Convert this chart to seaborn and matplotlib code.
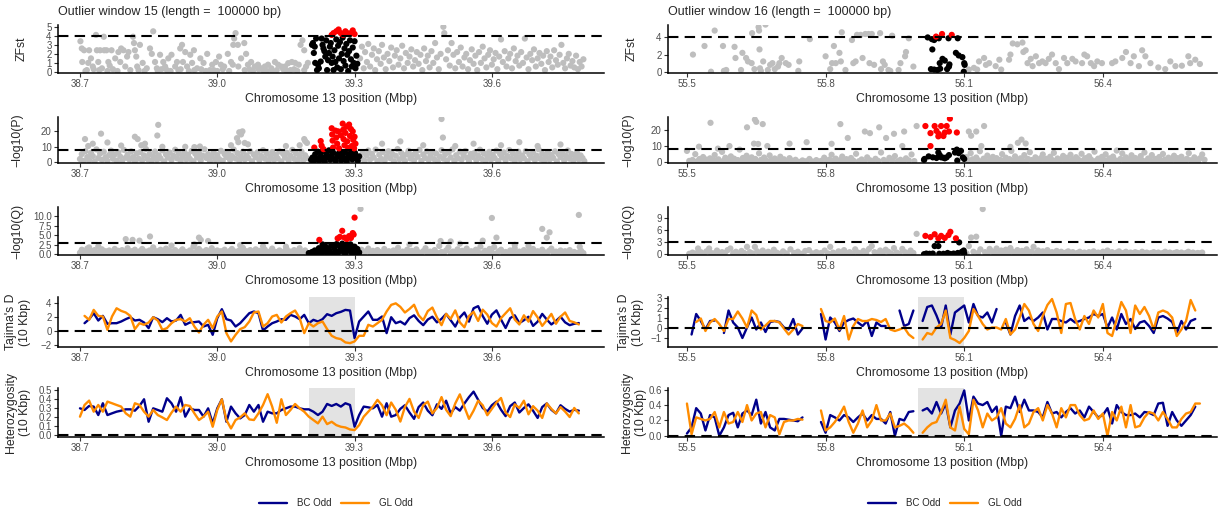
import numpy as np
import pandas as pd
import matplotlib
matplotlib.use("Agg")
import matplotlib.pyplot as plt
import seaborn as sns
from matplotlib.lines import Line2D

# ---------------- data ----------------
# scatter panels: "position(Mbp) value" pairs
ZFST_15 = """
38.701 3.4, 38.704 2.6, 38.705 1.1, 38.709 2.4, 38.715 0.2, 38.718 1.0, 38.72 2.4, 38.724 1.5, 38.728 0.6, 38.735 4.1,
38.737 2.4, 38.74 1.1, 38.744 2.4, 38.748 0.4, 38.752 3.9, 38.753 2.4, 38.758 2.4, 38.762 1.1, 38.765 0.7, 38.769 2.4,
38.777 1.5, 38.784 2.2, 38.788 1.1, 38.79 2.6, 38.795 2.4, 38.799 0.6, 38.803 1.7, 38.806 2.2, 38.816 3.9, 38.818 3.2,
38.82 2.4, 38.823 1.7, 38.825 0.6, 38.831 3.0, 38.837 1.0, 38.846 0.4, 38.853 2.6, 38.857 2.0, 38.86 4.5, 38.864 1.1,
38.868 0.4, 38.875 1.9, 38.882 1.1, 38.886 0.6, 38.89 0.2, 38.893 1.5, 38.9 1.9, 38.908 0.6, 38.912 1.1, 38.919 2.6,
38.923 3.0, 38.925 1.1, 38.93 2.2, 38.934 0.6, 38.941 1.9, 38.945 1.0, 38.949 2.4, 38.956 0.4, 38.963 1.5, 38.97 1.0,
38.978 2.0, 38.984 0.2, 38.989 0.8, 38.997 1.1, 39.004 1.7, 39.008 0.8, 39.015 0.6, 39.023 2.0, 39.03 1.1, 39.034 0.8,
39.035 3.0, 39.037 3.7, 39.04 4.3, 39.045 3.0, 39.046 0.6, 39.052 1.5, 39.059 3.2, 39.063 2.0, 39.067 0.8, 39.074 1.1,
39.082 0.6, 39.089 0.8, 39.096 0.4, 39.104 0.6, 39.111 0.8, 39.118 0.4, 39.126 1.1, 39.133 0.8, 39.14 0.6, 39.148 0.6,
39.155 0.97, 39.163 1.1, 39.17 1.0, 39.178 0.8, 39.182 3.0, 39.186 3.5, 39.19 2.4, 39.194 0.6, 39.198 1.0,
38.76 0.1, 38.81 0.2, 38.87 0.1, 38.95 0.2, 39.0 0.1, 39.06 0.2, 39.12 0.1, 39.16 0.2, 38.73 0.3, 38.92 0.3, 39.09 0.3,
38.712 0.1, 38.742 0.2, 38.772 0.3, 38.782 0.1, 38.828 0.2, 38.841 0.1, 38.878 0.3, 38.898 0.1, 38.915 0.2, 38.938 0.1,
38.965 0.3, 38.975 0.1, 38.992 0.2, 39.012 0.3, 39.026 0.1, 39.07 0.3, 39.078 0.1, 39.1 0.2, 39.108 0.1, 39.13 0.2,
39.144 0.3, 39.152 0.1, 39.168 0.3, 39.175 0.1, 39.19 0.2,
39.207 3.0, 39.209 3.2, 39.213 2.8, 39.211 2.1, 39.214 1.0, 39.216 3.7, 39.218 0.2, 39.22 0.8, 39.222 0.4, 39.226 1.15,
39.228 3.7, 39.23 3.0, 39.232 2.6, 39.234 2.3, 39.236 1.7, 39.238 3.5, 39.24 0.2, 39.242 1.3, 39.244 2.1, 39.246 2.8,
39.248 3.2, 39.25 1.0, 39.252 1.7, 39.254 0.2, 39.256 2.4, 39.258 1.1, 39.26 3.6, 39.262 0.5, 39.264 2.9, 39.266 1.5,
39.268 3.3, 39.27 0.3, 39.272 2.0, 39.274 3.8, 39.276 1.2, 39.278 2.6, 39.28 0.7, 39.282 3.1, 39.284 1.9, 39.286 0.1,
39.288 2.3, 39.29 3.5, 39.292 1.4, 39.294 0.6, 39.296 2.7, 39.298 1.0, 39.3 3.4, 39.302 0.4, 39.304 1.8, 39.306 0.9,
39.25 4.1, 39.254 4.3, 39.26 4.5, 39.265 4.7, 39.27 4.3, 39.275 4.1, 39.28 4.5, 39.284 4.3, 39.288 4.2, 39.292 4.3,
39.296 4.6, 39.3 4.2,
39.312 1.5, 39.316 2.8, 39.32 0.4, 39.323 2.2, 39.327 1.1, 39.33 3.1, 39.334 0.6, 39.338 1.9, 39.342 2.6, 39.345 0.2,
39.349 1.4, 39.353 2.3, 39.357 0.9, 39.36 3.0, 39.364 1.6, 39.368 0.3, 39.372 2.0, 39.376 1.2, 39.38 2.7, 39.384 0.5,
39.388 1.8, 39.392 2.4, 39.396 0.8, 39.4 1.5, 39.404 2.9, 39.408 0.4, 39.412 2.1, 39.416 1.0, 39.42 1.7, 39.424 2.5,
39.428 0.6, 39.432 1.3, 39.436 2.2, 39.44 0.9, 39.444 1.9, 39.448 0.2, 39.452 2.6, 39.456 1.2, 39.46 1.8, 39.464 0.5,
39.468 2.3, 39.472 1.0, 39.476 3.2, 39.48 1.6, 39.484 0.3, 39.488 2.0, 39.494 5.0, 39.496 4.3, 39.5 1.4, 39.504 2.4,
39.508 0.7, 39.512 3.2, 39.516 1.9, 39.52 0.4, 39.524 2.2, 39.528 1.1, 39.532 2.7, 39.536 0.6, 39.54 1.6, 39.544 2.0,
39.548 0.3, 39.552 1.3, 39.556 2.5, 39.56 0.9, 39.564 1.8, 39.568 0.2, 39.572 2.2, 39.576 1.0, 39.58 2.8, 39.584 1.5,
39.588 0.5, 39.592 1.9, 39.596 2.4, 39.6 0.8, 39.604 1.4, 39.608 2.1, 39.612 0.3, 39.616 1.7, 39.62 3.6, 39.624 1.1,
39.628 2.3, 39.632 0.6, 39.636 1.5, 39.64 2.0, 39.644 0.4, 39.648 2.6, 39.652 1.2, 39.656 1.8, 39.66 0.7, 39.664 2.2,
39.668 1.0, 39.672 3.7, 39.676 1.6, 39.68 0.3, 39.684 2.0, 39.688 1.3, 39.692 2.5, 39.696 0.6, 39.7 1.5, 39.704 2.1,
39.708 0.9, 39.712 1.8, 39.716 0.2, 39.72 2.3, 39.724 1.1, 39.728 1.7, 39.732 0.5, 39.736 2.4, 39.74 1.3, 39.744 0.8,
39.748 1.9, 39.752 3.0, 39.756 1.0, 39.76 0.4, 39.764 1.5, 39.768 2.0, 39.772 0.7, 39.776 1.2, 39.78 0.5, 39.784 1.8,
39.788 0.3, 39.792 1.1, 39.796 0.6, 39.8 1.4
"""

LOGP_15 = """
38.700 2.1, 38.704 5.3, 38.708 0.8, 38.712 7.2, 38.716 3.4, 38.720 1.2, 38.724 6.1, 38.728 4.0, 38.732 0.5, 38.736 8.3,
38.740 2.7, 38.744 5.6, 38.748 1.5, 38.752 6.8, 38.756 3.2, 38.760 0.9, 38.764 4.7, 38.768 7.5, 38.772 2.3, 38.776 5.1,
38.780 1.0, 38.784 6.4, 38.788 3.6, 38.792 0.6, 38.796 8.0, 38.800 2.9, 38.804 4.9, 38.808 1.8, 38.812 7.0, 38.816 3.3,
38.820 0.7, 38.824 5.8, 38.828 2.4, 38.832 6.6, 38.836 1.3, 38.840 4.4, 38.844 8.6, 38.848 2.0, 38.852 5.4, 38.856 0.9,
38.860 3.8, 38.864 6.9, 38.868 1.6, 38.872 4.5, 38.876 2.5, 38.880 7.7, 38.884 0.5, 38.888 5.0, 38.892 3.0, 38.896 6.3,
38.900 1.4, 38.904 4.2, 38.908 8.1, 38.912 2.6, 38.916 5.7, 38.920 0.8, 38.924 3.9, 38.928 6.7, 38.932 1.9, 38.936 4.8,
38.940 2.2, 38.944 7.3, 38.948 0.6, 38.952 5.5, 38.956 3.1, 38.960 6.0, 38.964 1.2, 38.968 4.3, 38.972 8.4, 38.976 2.8,
38.980 5.2, 38.984 0.7, 38.988 3.7, 38.992 6.5, 38.996 1.7, 39.000 4.6, 39.004 2.1, 39.008 7.4, 39.012 0.9, 39.016 5.3,
39.020 3.4, 39.024 6.2, 39.028 1.5, 39.032 4.1, 39.036 8.2, 39.040 2.4, 39.044 5.9, 39.048 1.0, 39.052 3.6, 39.056 6.8,
39.060 1.8, 39.064 4.4, 39.068 2.7, 39.072 7.1, 39.076 0.6, 39.080 5.0, 39.084 3.2, 39.088 6.4, 39.092 1.3, 39.096 4.0,
39.100 7.8, 39.104 2.3, 39.108 5.6, 39.112 0.8, 39.116 3.5, 39.120 6.6, 39.124 1.6, 39.128 4.7, 39.132 2.5, 39.136 7.0,
39.140 0.5, 39.144 5.4, 39.148 3.0, 39.152 6.1, 39.156 1.1, 39.160 4.2, 39.164 8.0, 39.168 2.2, 39.172 5.7, 39.176 0.9,
39.180 3.8, 39.184 6.9, 39.188 1.4, 39.192 4.5, 39.196 2.6,
38.711 15.0, 38.718 10.5, 38.728 12.0, 38.746 18.5, 38.760 12.8, 38.790 10.8, 38.820 16.5, 38.826 15.0, 38.834 11.0,
38.842 12.0, 38.869 17.3, 38.871 24.2, 38.880 10.0, 38.930 10.0, 38.950 9.8, 38.962 10.2, 39.030 11.0, 39.043 15.6,
39.046 13.0, 39.048 19.4, 39.052 18.0, 39.055 20.0, 39.060 12.5, 39.067 11.6, 39.150 10.5, 39.180 11.0, 39.190 15.0,
39.192 13.7, 39.196 12.5,
39.205 1.5, 39.208 3.0, 39.211 0.5, 39.214 5.2, 39.217 2.2, 39.220 6.8, 39.223 1.0, 39.226 4.0, 39.229 7.2, 39.232 2.7,
39.235 0.4, 39.238 5.6, 39.241 3.3, 39.244 7.7, 39.247 1.6, 39.250 4.6, 39.253 6.3, 39.256 2.0, 39.259 0.8, 39.262 5.0,
39.265 3.6, 39.268 7.0, 39.271 1.2, 39.274 4.3, 39.277 6.5, 39.280 2.4, 39.283 0.6, 39.286 5.4, 39.289 3.1, 39.292 7.4,
39.295 1.8, 39.298 4.8, 39.301 6.0, 39.304 2.9, 39.307 0.9, 39.310 3.8,
39.212 9.5, 39.226 13.7, 39.228 10.7, 39.232 8.5, 39.250 22.0, 39.251 18.0, 39.252 14.0, 39.253 9.5, 39.258 20.5,
39.260 16.0, 39.262 12.0, 39.264 20.0, 39.266 9.0, 39.270 17.5, 39.274 25.0, 39.275 21.0, 39.276 15.0, 39.278 11.0,
39.280 19.0, 39.282 23.0, 39.284 13.5, 39.286 9.2, 39.288 24.4, 39.290 17.0, 39.292 21.5, 39.294 10.5, 39.296 20.0,
39.297 14.5, 39.299 9.0, 39.300 16.5, 39.302 12.0,
39.314 2.5, 39.318 6.2, 39.322 0.9, 39.326 4.4, 39.330 7.6, 39.334 1.8, 39.338 5.3, 39.342 3.0, 39.346 8.2, 39.350 0.7,
39.354 4.9, 39.358 2.2, 39.362 6.7, 39.366 1.3, 39.370 3.9, 39.374 7.1, 39.378 2.6, 39.382 5.5, 39.386 0.6, 39.390 4.2,
39.394 8.5, 39.398 1.9, 39.402 6.0, 39.406 3.3, 39.410 0.9, 39.414 5.1, 39.418 7.4, 39.422 2.4, 39.426 4.6, 39.430 1.2,
39.434 6.5, 39.438 3.5, 39.442 8.0, 39.446 0.8, 39.450 5.0, 39.454 2.8, 39.458 7.0, 39.462 1.5, 39.466 4.1, 39.470 6.3,
39.474 2.0, 39.478 5.7, 39.482 0.5, 39.486 3.7, 39.490 7.8, 39.494 2.3, 39.498 5.2, 39.502 1.1, 39.506 6.6, 39.510 3.1,
39.514 8.3, 39.518 0.9, 39.522 4.5, 39.526 2.5, 39.530 6.9, 39.534 1.7, 39.538 4.8, 39.542 7.3, 39.546 2.9, 39.550 0.6,
39.554 5.4, 39.558 3.4, 39.562 6.1, 39.566 1.3, 39.570 4.3, 39.574 8.1, 39.578 2.1, 39.582 5.8, 39.586 0.8, 39.590 3.8,
39.594 6.7, 39.598 1.6, 39.602 4.7, 39.606 2.7, 39.610 7.5, 39.614 0.7, 39.618 5.3, 39.622 3.2, 39.626 6.4, 39.630 1.2,
39.634 4.0, 39.638 7.9, 39.642 2.4, 39.646 5.6, 39.650 0.9, 39.654 3.6, 39.658 6.8, 39.662 1.9, 39.666 4.4, 39.670 2.6,
39.674 7.2, 39.678 0.6, 39.682 5.1, 39.686 3.0, 39.690 6.2, 39.694 1.4, 39.698 4.2, 39.702 8.4, 39.706 2.2, 39.710 5.5,
39.714 0.8, 39.718 3.7, 39.722 6.6, 39.726 1.7, 39.730 4.6, 39.734 2.8, 39.738 7.0, 39.742 0.5, 39.746 5.2, 39.750 3.3,
39.754 6.0, 39.758 1.1, 39.762 4.1, 39.766 7.6, 39.770 2.3, 39.774 5.4, 39.778 1.0, 39.782 3.6, 39.786 6.1, 39.790 1.9,
39.794 4.4, 39.798 2.7, 39.802 0.8,
39.360 12.0, 39.400 13.5, 39.450 11.0, 39.490 28.0, 39.493 16.0, 39.520 10.5, 39.560 12.0, 39.620 11.0, 39.660 13.0,
39.700 10.5, 39.750 11.5
"""

LOGQ_15 = """
38.700 0.4, 38.704 1.2, 38.708 0.1, 38.712 0.8, 38.716 1.5, 38.72 0.3, 38.724 0.9, 38.728 0.2, 38.732 1.1, 38.736 0.5,
38.74 0.1, 38.744 0.7, 38.748 1.3, 38.752 0.3, 38.756 0.8, 38.76 0.1, 38.764 1.0, 38.768 0.4, 38.772 0.6, 38.776 1.4,
38.78 0.2, 38.784 0.9, 38.788 0.4, 38.792 1.1, 38.796 0.1, 38.8 0.7, 38.804 1.6, 38.808 0.3, 38.812 0.8, 38.816 0.2,
38.82 1.2, 38.824 0.5, 38.828 0.1, 38.832 0.9, 38.836 1.4, 38.84 0.3, 38.844 0.7, 38.848 0.2, 38.852 1.0, 38.856 0.5,
38.86 1.8, 38.864 0.1, 38.868 0.8, 38.872 0.4, 38.876 1.2, 38.88 0.2, 38.884 0.6, 38.888 1.5, 38.892 0.3, 38.896 0.9,
38.9 0.1, 38.904 0.7, 38.908 1.1, 38.912 0.4, 38.916 0.2, 38.92 0.8, 38.924 1.3, 38.928 0.3, 38.932 0.6, 38.936 0.1,
38.94 1.0, 38.944 0.5, 38.948 2.0, 38.952 0.2, 38.956 0.9, 38.96 1.4, 38.964 0.3, 38.968 0.7, 38.972 0.1, 38.976 1.1,
38.98 0.4, 38.984 0.8, 38.988 1.6, 38.992 0.2, 38.996 0.6, 39.0 1.0, 39.004 0.3, 39.008 0.8, 39.012 0.1, 39.016 1.2,
39.02 0.5, 39.024 0.2, 39.028 0.9, 39.032 1.4, 39.036 0.3, 39.04 0.7, 39.044 0.1, 39.048 1.0, 39.052 0.4, 39.056 1.7,
39.06 0.2, 39.064 0.8, 39.068 0.5, 39.072 1.1, 39.076 0.1, 39.08 0.6, 39.084 1.3, 39.088 0.3, 39.092 0.9, 39.096 0.2,
39.1 0.7, 39.104 1.2, 39.108 0.4, 39.112 0.1, 39.116 0.8, 39.12 1.5, 39.124 0.3, 39.128 0.6, 39.132 0.2, 39.136 1.0,
39.14 0.5, 39.144 0.1, 39.148 0.9, 39.152 1.3, 39.156 0.3, 39.16 0.7, 39.164 0.2, 39.168 1.1, 39.172 0.4, 39.176 0.8,
39.18 1.6, 39.184 0.2, 39.188 0.6, 39.192 1.0, 39.196 0.3,
39.31 0.5, 39.315 1.2, 39.32 0.2, 39.325 0.8, 39.33 1.5, 39.335 0.3, 39.34 0.9, 39.345 0.1, 39.35 1.1, 39.355 0.6,
39.36 0.2, 39.365 1.4, 39.37 0.4, 39.375 0.8, 39.38 0.1, 39.385 1.0, 39.39 0.5, 39.395 1.7, 39.4 0.3, 39.405 0.7,
39.41 0.2, 39.415 1.2, 39.42 0.4, 39.425 0.9, 39.43 0.1, 39.435 1.3, 39.44 0.5, 39.445 0.2, 39.45 0.8, 39.455 1.6,
39.46 0.3, 39.465 0.7, 39.47 0.1, 39.475 1.1, 39.48 0.4, 39.485 2.2, 39.49 0.6, 39.495 0.2, 39.5 1.0, 39.505 1.8,
39.51 0.3, 39.515 0.7, 39.52 0.1, 39.525 1.3, 39.53 0.5, 39.535 0.9, 39.54 0.2, 39.545 1.5, 39.55 0.4, 39.555 0.8,
39.56 0.1, 39.565 1.2, 39.57 0.6, 39.575 2.0, 39.58 0.3, 39.585 0.9, 39.59 0.2, 39.595 1.4, 39.6 0.5, 39.605 1.9,
39.61 0.2, 39.615 0.8, 39.62 1.2, 39.625 0.3, 39.63 0.6, 39.635 0.1, 39.64 1.0, 39.645 0.4, 39.65 1.6, 39.655 0.2,
39.66 0.7, 39.665 0.1, 39.67 1.1, 39.675 0.5, 39.68 0.9, 39.685 0.2, 39.69 1.4, 39.695 0.3, 39.7 0.8, 39.705 0.1,
39.71 1.2, 39.715 0.5, 39.72 0.2, 39.725 0.9, 39.73 1.5, 39.735 0.3, 39.74 0.7, 39.745 0.1, 39.75 1.0, 39.755 0.4,
39.76 0.8, 39.765 0.2, 39.77 1.1, 39.775 0.3, 39.78 0.6, 39.785 0.2, 39.79 0.5, 39.795 0.9, 39.8 0.3,
38.80 4.0, 38.815 3.8, 38.83 3.6, 38.853 4.7, 38.96 4.4, 38.964 3.8, 38.98 3.5, 39.313 12.0, 39.488 3.5, 39.51 3.4,
39.58 3.6, 39.60 9.6, 39.61 4.4, 39.71 6.7, 39.726 5.8, 39.72 4.4, 39.79 10.4, 39.792 2.0, 38.72 1.8, 38.74 2.1,
38.9 2.3, 38.95 2.6, 39.05 2.4, 39.1 2.1, 39.15 2.0, 39.42 2.6, 39.53 2.8, 39.65 2.5, 39.68 2.2,
39.2 0.3, 39.204 0.1, 39.207 0.6, 39.21 0.2, 39.213 1.0, 39.216 0.4, 39.219 0.1, 39.222 1.6, 39.225 0.5, 39.228 0.2,
39.231 1.2, 39.234 0.7, 39.237 2.0, 39.24 0.3, 39.243 1.4, 39.246 0.8, 39.249 2.4, 39.252 0.1, 39.255 1.8, 39.258 1.0,
39.261 2.7, 39.264 0.4, 39.267 2.2, 39.27 1.3, 39.273 2.8, 39.276 0.6, 39.279 1.9, 39.282 2.5, 39.285 0.9, 39.288 1.6,
39.291 2.6, 39.294 0.3, 39.297 1.1, 39.3 2.0, 39.303 0.5, 39.306 1.4, 39.309 0.2, 39.23 2.6, 39.245 0.1, 39.26 0.2,
39.28 0.1,
39.223 3.8, 39.263 4.2, 39.268 4.6, 39.273 6.2, 39.278 4.4, 39.283 4.0, 39.288 4.8, 39.292 4.3, 39.296 5.6,
39.298 5.2, 39.3 9.7
"""

ZFST_16 = """
55.513 2.0, 55.538 3.0, 55.552 0.0, 55.56 4.8, 55.578 3.0, 55.58 0.1, 55.585 0.2, 55.603 2.9, 55.605 1.6, 55.617 0.2,
55.62 2.2, 55.628 1.6, 55.632 1.2, 55.64 1.0, 55.641 4.5, 55.646 0.3, 55.655 5.2, 55.656 4.8, 55.657 2.6, 55.658 0.4,
55.66 0.1, 55.665 1.2, 55.67 5.5, 55.675 0.2, 55.68 0.8, 55.685 1.0, 55.69 0.3, 55.697 0.6, 55.70 1.0, 55.705 1.6,
55.714 1.0, 55.72 0.8, 55.743 1.2, 55.741 0.1, 55.766 3.8, 55.80 1.8, 55.81 0.3, 55.814 1.0, 55.818 3.0, 55.822 1.0,
55.83 2.2, 55.833 1.2, 55.835 4.6, 55.843 0.2, 55.86 1.0, 55.865 1.2, 55.88 1.6, 55.886 4.4, 55.893 4.4, 55.90 4.4,
55.905 0.8, 55.918 4.5, 55.924 1.2, 55.928 0.8, 55.936 0.2, 55.944 4.2, 55.958 0.2, 55.972 1.8, 55.974 2.3, 55.98 3.9,
55.99 0.6, 55.857 3.7, 55.868 4.3, 55.876 4.3, 55.895 1.0, 55.92 0.3, 55.94 0.1, 55.962 1.0,
56.11 0.25, 56.121 0.45, 56.128 0.25, 56.132 1.2, 56.143 1.6, 56.147 0.8, 56.154 1.0, 56.168 0.65, 56.176 1.4, 56.18 0.25,
56.197 1.4, 56.2 2.0, 56.205 3.3, 56.215 3.2, 56.226 3.4, 56.228 2.3, 56.233 2.5, 56.237 1.0, 56.244 1.5, 56.248 0.65,
56.255 1.8, 56.262 1.0, 56.269 1.2, 56.276 1.0, 56.283 1.5, 56.29 2.0, 56.298 1.0, 56.305 0.3, 56.316 1.6, 56.323 1.0,
56.334 1.5, 56.341 1.2, 56.355 1.0, 56.36 2.0, 56.366 1.8, 56.374 1.0, 56.381 0.65, 56.388 1.2, 56.398 1.0, 56.42 1.0,
56.427 1.2, 56.442 1.6, 56.45 2.3, 56.46 1.0, 56.467 1.8, 56.478 0.65, 56.485 2.5, 56.492 1.8, 56.503 1.0, 56.52 0.5,
56.535 0.3, 56.546 1.2, 56.557 0.65, 56.571 0.7, 56.585 1.8, 56.589 1.0, 56.60 1.4, 56.61 0.9,
56.021 4.0, 56.03 3.8, 56.035 3.7, 56.039 4.1, 56.066 3.9, 56.086 3.9, 56.031 2.6, 56.053 1.5, 56.047 1.0, 56.068 0.85,
56.082 2.2, 56.088 1.9, 56.096 1.7, 56.1 1.0, 56.101 0.8, 56.028 0.3, 56.035 0.25, 56.042 0.2, 56.048 0.35, 56.063 0.3,
56.067 0.6, 56.099 0.0, 56.058 1.3, 56.045 3.9,
56.052 4.4, 56.073 4.3
"""

LOGP_16 = """
55.505 0.8, 55.512 1.4, 55.518 5.0, 55.522 0.5, 55.527 2.0, 55.531 1.0, 55.535 3.2, 55.538 0.3, 55.542 1.6, 55.546 0.9,
55.55 2.4, 55.553 0.4, 55.557 1.2, 55.56 4.5, 55.564 0.7, 55.568 1.8, 55.572 0.2, 55.576 6.4, 55.58 1.1, 55.583 2.8,
55.587 0.5, 55.591 1.5, 55.595 3.6, 55.598 0.8, 55.602 2.2, 55.606 0.3, 55.61 1.3, 55.614 7.8, 55.617 0.6, 55.621 2.6,
55.625 1.0, 55.629 4.0, 55.633 0.4, 55.636 1.7, 55.64 3.0, 55.644 0.9, 55.648 2.0, 55.652 0.2, 55.656 5.5, 55.66 1.4,
55.663 0.6, 55.667 2.9, 55.671 1.1, 55.675 0.3, 55.679 4.2, 55.683 1.6, 55.687 0.8, 55.69 2.3, 55.694 0.4, 55.698 1.2,
55.702 3.4, 55.706 0.7, 55.71 1.8, 55.716 0.3, 55.722 2.5, 55.728 0.9, 55.735 1.5, 55.742 0.2, 55.75 1.1, 55.758 0.6,
55.765 2.0, 55.772 0.4, 55.78 1.3, 55.79 0.8, 55.797 2.8, 55.803 0.3, 55.808 1.6, 55.813 4.6, 55.818 0.9, 55.822 2.2,
55.827 0.5, 55.832 1.3, 55.836 3.5, 55.84 0.7, 55.845 1.9, 55.85 0.3, 55.855 2.6, 55.86 1.0, 55.866 5.2, 55.872 0.6,
55.878 1.7, 55.884 0.2, 55.89 3.0, 55.896 1.2, 55.902 0.5, 55.908 2.1, 55.914 0.8, 55.92 6.0, 55.926 1.4, 55.932 0.4,
55.938 2.7, 55.944 1.0, 55.95 3.8, 55.956 0.6, 55.962 1.5, 55.968 0.3, 55.974 2.4, 55.98 1.1, 55.986 4.8, 55.992 0.7,
56.105 3.2, 56.11 0.9, 56.114 5.6, 56.118 1.8, 56.122 0.5, 56.126 2.9, 56.13 1.2, 56.134 6.8, 56.138 0.4, 56.142 2.2,
56.146 1.0, 56.15 4.1, 56.154 0.6, 56.158 1.7, 56.162 3.3, 56.166 0.8, 56.17 2.5, 56.174 0.3, 56.178 1.4, 56.182 5.0,
56.186 1.1, 56.19 2.8, 56.194 0.5, 56.198 1.9, 56.202 7.0, 56.206 0.9, 56.21 3.6, 56.214 1.5, 56.218 0.4, 56.222 2.4,
56.226 1.0, 56.23 4.4, 56.234 0.7, 56.238 2.0, 56.242 6.2, 56.246 1.3, 56.25 0.5, 56.254 3.0, 56.258 1.7, 56.262 0.3,
56.266 2.6, 56.27 4.8, 56.274 1.0, 56.278 2.1, 56.282 0.6, 56.286 3.4, 56.29 1.4, 56.294 5.8, 56.298 0.8, 56.302 2.3,
56.306 0.4, 56.31 1.6, 56.314 3.9, 56.318 1.1, 56.322 2.7, 56.326 0.5, 56.33 4.6, 56.334 1.5, 56.338 0.9, 56.342 3.1,
56.346 2.0, 56.35 0.3, 56.354 5.2, 56.358 1.2, 56.362 2.5, 56.366 0.7, 56.37 3.7, 56.374 1.8, 56.378 0.4, 56.382 6.5,
56.386 1.0, 56.39 2.2, 56.394 0.6, 56.398 3.3, 56.402 1.5, 56.406 4.9, 56.41 0.8, 56.414 2.4, 56.418 0.3, 56.422 3.5,
56.426 1.3, 56.43 7.2, 56.434 0.9, 56.438 2.0, 56.442 5.4, 56.446 1.1, 56.45 3.0, 56.454 0.5, 56.458 1.7, 56.462 4.3,
56.466 0.8, 56.47 2.6, 56.474 1.4, 56.478 0.3, 56.482 3.8, 56.486 1.0, 56.49 6.0, 56.494 0.6, 56.498 2.3, 56.502 1.5,
56.506 4.4, 56.51 0.4, 56.514 2.0, 56.518 1.2, 56.522 3.2, 56.526 0.7, 56.53 5.1, 56.534 1.6, 56.538 0.9, 56.542 2.8,
56.546 0.3, 56.55 1.9, 56.554 4.0, 56.558 1.0, 56.562 2.5, 56.566 0.6, 56.57 3.4, 56.574 1.3, 56.578 0.5, 56.582 2.1,
56.586 5.6, 56.59 1.2, 56.594 0.8, 56.598 3.0, 56.602 1.6, 56.606 0.4, 56.61 2.4, 56.615 4.8, 56.62 1.5,
55.5 7.0, 55.526 9.6, 55.551 24.4, 55.567 8.4, 55.592 10.0, 55.63 21.6, 55.647 26.4, 55.65 25.0, 55.664 23.6,
55.645 11.5, 55.654 11.3, 55.674 10.0, 55.722 11.5, 55.759 12.4, 55.813 11.4, 55.832 23.6, 55.848 15.0, 55.885 19.0,
55.896 18.0, 55.916 21.6, 55.931 15.0, 55.948 17.6, 55.97 19.0, 55.997 22.4, 55.966 10.0, 56.11 19.0, 56.126 19.0,
56.143 22.4, 56.115 16.4, 56.137 10.0, 56.216 12.0, 56.224 14.0, 56.233 11.6, 56.2 9.5,
56.013 1.4, 56.014 2.0, 56.023 3.6, 56.032 3.0, 56.044 6.0, 56.047 4.4, 56.05 3.0, 56.058 2.4, 56.062 3.0, 56.067 4.4,
56.08 6.0, 56.084 7.8, 56.088 5.6, 56.093 7.0, 56.097 3.0, 56.1 2.0, 56.085 1.0, 56.04 2.6, 56.055 2.8,
56.016 22.4, 56.027 18.0, 56.036 22.4, 56.04 19.4, 56.044 16.0, 56.05 22.4, 56.058 18.4, 56.062 22.4, 56.067 19.0,
56.069 27.0, 56.084 18.4, 56.027 10.0, 56.045 17.5, 56.055 16.2
"""

LOGQ_16 = """
55.505 0.1, 55.512 0.4, 55.52 0.2, 55.524 1.4, 55.53 0.5, 55.536 0.1, 55.542 0.7, 55.548 1.4, 55.552 0.3, 55.558 0.2,
55.565 0.9, 55.57 0.1, 55.576 0.5, 55.582 0.3, 55.588 1.0, 55.594 1.4, 55.6 0.2, 55.606 0.6, 55.612 0.1, 55.618 0.8,
55.624 0.3, 55.63 1.8, 55.636 0.5, 55.642 0.2, 55.647 1.8, 55.652 0.7, 55.658 0.1, 55.664 0.9, 55.67 0.3, 55.676 0.6,
55.682 0.2, 55.688 1.1, 55.694 0.4, 55.7 0.1, 55.708 0.7, 55.716 0.2, 55.724 1.2, 55.732 0.3, 55.74 0.6, 55.748 0.1,
55.756 0.8, 55.764 1.0, 55.772 0.2, 55.78 0.5, 55.79 0.3, 55.798 0.9, 55.805 0.2, 55.81 1.8, 55.816 0.4, 55.822 0.1,
55.828 0.7, 55.834 0.3, 55.84 1.0, 55.846 0.2, 55.852 0.5, 55.858 0.1, 55.864 1.2, 55.87 0.4, 55.876 0.2, 55.882 0.8,
55.888 0.3, 55.894 1.3, 55.9 2.0, 55.906 0.5, 55.912 0.1, 55.918 0.9, 55.924 0.3, 55.93 1.1, 55.936 0.6, 55.942 0.2,
55.948 1.5, 55.954 0.4, 55.96 0.1, 55.966 1.3, 55.972 0.5, 55.978 0.2, 55.984 0.9, 55.99 0.3, 55.997 5.0,
56.105 0.2, 56.11 2.0, 56.115 4.1, 56.12 0.6, 56.126 4.3, 56.13 0.3, 56.135 1.2, 56.14 11.1, 56.145 0.5, 56.15 0.2,
56.155 1.3, 56.16 0.7, 56.165 0.3, 56.17 1.4, 56.175 0.1, 56.18 0.9, 56.185 0.4, 56.19 1.1, 56.195 0.2, 56.2 1.5,
56.205 0.6, 56.21 0.3, 56.215 1.0, 56.22 0.1, 56.225 0.8, 56.23 0.4, 56.235 1.2, 56.24 0.2, 56.245 0.6, 56.25 1.8,
56.255 0.3, 56.26 0.9, 56.265 0.1, 56.27 0.7, 56.275 0.4, 56.28 1.0, 56.285 0.2, 56.29 0.5, 56.295 0.1, 56.3 0.8,
56.305 0.3, 56.31 0.6, 56.315 0.1, 56.32 0.4, 56.325 0.7, 56.33 0.2, 56.335 0.5, 56.34 0.1, 56.345 0.3, 56.35 0.6,
56.355 0.2, 56.36 0.4, 56.365 0.1, 56.37 0.5, 56.375 0.3, 56.38 0.7, 56.385 0.2, 56.39 0.4, 56.395 0.1, 56.4 0.6,
56.405 0.3, 56.41 0.9, 56.415 0.2, 56.42 0.5, 56.425 0.1, 56.43 0.4, 56.435 0.7, 56.44 0.2, 56.445 0.3, 56.45 0.6,
56.455 0.1, 56.46 0.4, 56.465 0.2, 56.47 0.5, 56.475 0.3, 56.48 0.1, 56.485 0.6, 56.49 0.2, 56.495 0.4, 56.5 0.1,
56.505 0.3, 56.51 0.5, 56.515 0.2, 56.52 0.4, 56.525 0.1, 56.53 0.3, 56.535 0.6, 56.54 0.2, 56.545 0.4, 56.55 0.1,
56.555 0.3, 56.56 0.5, 56.565 0.2, 56.57 0.4, 56.575 0.1, 56.58 0.3, 56.585 0.6, 56.59 0.2, 56.595 0.4, 56.6 0.1,
56.605 0.3, 56.61 0.2, 56.615 0.4,
56.013 0.0, 56.018 0.15, 56.032 0.15, 56.036 2.0, 56.044 2.0, 56.046 0.1, 56.055 0.1, 56.064 0.3, 56.077 0.15,
56.086 0.3, 56.089 2.9, 56.095 0.6, 56.1 0.2, 56.025 0.1, 56.07 0.05, 56.099 0.9,
56.016 4.5, 56.027 4.2, 56.036 4.9, 56.044 3.9, 56.05 4.5, 56.058 4.0, 56.07 5.5, 56.066 4.7, 56.082 3.9
"""

# 10 Kbp windows
WIN_15 = """
38.70 38.71 38.72 38.73 38.74 38.75 38.76 38.77 38.78 38.79
38.80 38.81 38.82 38.83 38.84 38.85 38.86 38.87 38.88 38.89
38.90 38.91 38.92 38.93 38.94 38.95 38.96 38.97 38.98 38.99
39.00 39.01 39.02 39.03 39.04 39.05 39.06 39.07 39.08 39.09
39.10 39.11 39.12 39.13 39.14 39.15 39.16 39.17 39.18 39.19
39.20 39.21 39.22 39.23 39.24 39.25 39.26 39.27 39.28 39.29
39.30 39.31 39.32 39.33 39.34 39.35 39.36 39.37 39.38 39.39
39.40 39.41 39.42 39.43 39.44 39.45 39.46 39.47 39.48 39.49
39.50 39.51 39.52 39.53 39.54 39.55 39.56 39.57 39.58 39.59
39.60 39.61 39.62 39.63 39.64 39.65 39.66 39.67 39.68 39.69
39.70 39.71 39.72 39.73 39.74 39.75 39.76 39.77 39.78 39.79
"""
TAJ_BC_15 = """
nan 1.08 1.65 2.5 1.46 2.12 0.99 1.08 1.08 1.32
1.65 1.93 1.46 1.56 1.18 0.38 1.93 1.65 1.23 1.79
1.32 1.46 2.26 0.85 1.18 1.23 1.32 0.61 0.85 -0.57
1.79 3.07 1.65 1.46 0.61 1.08 1.79 2.5 2.74 2.5
0.05 0.61 1.08 1.32 1.65 1.56 2.26 2.03 1.65 2.26
1.08 1.56 1.32 1.65 2.36 2.12 2.5 2.69 2.97 2.88
-1.04 1.32 2.03 2.74 1.56 1.56 2.03 -0.33 1.93 1.08
1.32 0.9 1.8 2.2 1.4 0.8 1.6 2.0 1.2 1.7
2.4 1.5 0.6 1.9 2.6 1.3 3.2 3.5 2.1 1.0
2.3 2.9 1.6 0.4 1.8 2.2 1.1 1.5 2.0 0.7
1.3 2.4 1.6 0.9 1.4 2.0 1.2 0.8 1.0 1.1
"""
TAJ_GL_15 = """
nan 2.12 1.56 2.97 2.12 2.03 0.14 2.03 3.2 2.83
2.6 2.12 0.24 1.08 0.85 1.18 1.93 1.46 0.14 0.38
1.08 1.56 1.65 1.32 1.79 0.61 -0.24 0.85 1.56 0.38
2.03 2.74 -0.33 -1.51 -0.57 0.24 0.52 1.32 2.6 2.74
0.61 1.08 2.03 2.26 1.18 2.03 2.5 2.88 1.79 -0.33
1.08 0.61 1.08 1.32 0.24 -0.71 -1.04 -1.18 -1.65 -1.75
-1.51 -0.71 -0.71 0.85 0.61 1.08 1.56 2.74 3.68 3.9
3.4 2.6 3.1 3.7 2.2 1.5 2.8 3.3 1.9 0.8
2.4 1.7 2.9 1.2 0.5 2.1 2.7 1.4 3.0 2.3
1.1 0.6 1.8 2.5 3.2 1.6 0.9 2.2 1.3 2.8
1.9 0.7 1.5 2.4 1.0 2.0 2.6 1.4 1.2 0.9
"""
HET_BC_15 = """
0.296 0.278 0.322 0.315 0.222 0.352 0.222 0.241 0.259 0.27
0.285 0.285 0.27 0.322 0.396 0.148 0.296 0.278 0.259 0.407
0.352 0.259 0.419 0.204 0.296 0.278 0.278 0.204 0.296 0.13
0.296 0.396 0.148 0.315 0.241 0.185 0.222 0.333 0.259 0.333
0.148 0.259 0.241 0.241 0.278 0.296 0.315 0.315 0.296 0.285
0.285 0.259 0.222 0.259 0.344 0.322 0.344 0.315 0.352 0.333
0.093 0.222 0.315 0.307 0.296 0.333 0.204 0.352 0.204 0.222
0.29 0.33 0.25 0.18 0.31 0.36 0.27 0.22 0.34 0.29
0.38 0.24 0.31 0.27 0.35 0.42 0.48 0.39 0.30 0.26
0.33 0.37 0.28 0.21 0.32 0.36 0.25 0.30 0.34 0.27
0.19 0.31 0.35 0.28 0.24 0.33 0.29 0.26 0.28 0.27
"""
HET_GL_15 = """
0.204 0.333 0.381 0.259 0.333 0.259 0.37 0.352 0.333 0.315
0.241 0.204 0.352 0.333 0.259 0.204 0.278 0.222 0.196 0.167
0.248 0.315 0.259 0.333 0.322 0.241 0.167 0.204 0.259 0.093
0.278 0.396 0.167 0.074 0.167 0.196 0.241 0.174 0.167 0.241
0.333 0.452 0.315 0.137 0.396 0.222 0.278 0.344 0.296 0.259
0.204 0.167 0.13 0.204 0.122 0.148 0.111 0.093 0.085 0.063
0.056 0.111 0.204 0.259 0.315 0.389 0.33 0.22 0.36 0.28
0.15 0.31 0.40 0.26 0.19 0.33 0.37 0.24 0.30 0.42
0.28 0.21 0.35 0.45 0.31 0.18 0.27 0.38 0.33 0.22
0.29 0.36 0.41 0.25 0.20 0.34 0.30 0.38 0.23 0.32
0.27 0.19 0.35 0.29 0.24 0.31 0.26 0.20 0.30 0.24
"""

WIN_16 = """
55.50 55.51 55.52 55.53 55.54 55.55 55.56 55.57 55.58 55.59
55.60 55.61 55.62 55.63 55.64 55.65 55.66 55.67 55.68 55.69
55.70 55.71 55.72 55.73 55.74 55.75 55.76 55.77 55.78 55.79
55.80 55.81 55.82 55.83 55.84 55.85 55.86 55.87 55.88 55.89
55.90 55.91 55.92 55.93 55.94 55.95 55.96 55.97 55.98 55.99
56.00 56.01 56.02 56.03 56.04 56.05 56.06 56.07 56.08 56.09
56.10 56.11 56.12 56.13 56.14 56.15 56.16 56.17 56.18 56.19
56.20 56.21 56.22 56.23 56.24 56.25 56.26 56.27 56.28 56.29
56.30 56.31 56.32 56.33 56.34 56.35 56.36 56.37 56.38 56.39
56.40 56.41 56.42 56.43 56.44 56.45 56.46 56.47 56.48 56.49
56.50 56.51 56.52 56.53 56.54 56.55 56.56 56.57 56.58 56.59
56.60 56.61
"""
TAJ_BC_16 = """
nan -0.65 1.4 0.7 -0.15 0.7 0.75 nan -0.5 1.75
0.55 0.05 -1.0 0.05 1.05 -0.15 0.55 -0.4 0.6 0.7
0.6 0.05 -0.15 0.9 -0.65 -0.05 nan nan nan 1.4
-1.15 1.05 0.55 -0.3 0.55 0.8 0.95 0.55 0.2 0.7
-0.8 0.55 0.2 0.2 nan nan 1.75 0.2 0.4 1.75
nan 0.7 2.1 2.25 1.25 0.05 2.25 -0.65 1.55 1.9
2.25 0.55 2.4 1.2 1.05 1.55 0.55 1.9 nan 0.55
-0.65 1.2 2.25 0.7 1.05 0.7 1.05 1.55 -0.15 0.9
0.9 0.7 0.55 0.9 0.55 0.7 0.9 1.05 1.4 1.2
1.4 0.05 1.05 -0.15 1.4 0.4 0.9 -0.1 0.55 0.7
0.2 -0.5 1.05 1.2 0.95 0.6 -0.5 0.7 -0.15 0.7
0.9 nan
"""
TAJ_GL_16 = """
nan nan 0.6 0.95 -0.3 0.55 0.9 0.4 -0.3 0.9
0.9 1.65 0.95 0.05 1.75 1.3 -0.15 0.25 0.7 0.7
0.55 -0.05 -0.65 -0.15 0.4 0.2 nan nan nan 1.9
0.7 0.55 0.95 -0.15 1.2 -1.15 0.2 0.9 0.7 0.7
0.9 0.8 0.6 0.9 -0.15 -0.3 -0.15 0.05 -0.65 -1.0
nan -1.15 -0.5 -0.65 0.05 0.4 1.75 -1.0 -1.2 -1.5
-1.0 -0.3 1.9 1.2 0.4 -0.15 0.05 0.05 -0.15 0.9
-0.65 -0.15 1.05 2.4 1.75 0.4 -0.3 1.2 2.3 2.9
1.55 -0.5 2.4 2.5 0.9 -0.15 1.2 0.4 1.75 1.05
2.4 -0.5 -0.8 0.9 2.6 1.75 -0.5 2.25 1.4 2.1
1.2 -0.15 1.55 1.75 1.55 1.05 -0.8 -0.15 0.7 2.8
1.75 nan
"""
HET_BC_16 = """
0.03 0.11 0.36 0.29 0.07 0.27 0.24 0.0 0.11 0.27
0.30 0.11 0.29 0.33 0.27 0.47 0.16 0.31 0.11 0.07
0.22 0.22 0.21 0.20 0.19 0.24 nan nan nan 0.18
0.04 0.27 0.24 0.20 0.27 0.24 0.18 0.24 0.29 0.20
0.27 0.22 0.22 0.16 0.31 0.0 0.22 0.2 0.31 0.32
nan 0.33 0.36 0.29 0.44 0.29 0.42 0.11 0.33 0.42
0.59 0.2 0.51 0.42 0.40 0.44 0.31 0.38 0.0 0.38
0.36 0.51 0.31 0.47 0.33 0.33 0.31 0.24 0.44 0.29
0.31 0.24 0.31 0.36 0.29 0.33 0.24 0.38 0.31 0.24
0.27 0.36 0.16 0.40 0.31 0.27 0.27 0.29 0.24 0.31
0.30 0.27 0.42 0.43 0.13 0.31 0.2 0.13 0.2 0.27
0.38 nan
"""
HET_GL_16 = """
0.42 0.02 0.24 0.22 0.2 0.22 0.31 0.11 0.31 0.16
0.18 0.31 0.18 0.40 0.2 0.29 0.31 0.11 0.27 0.24
0.02 0.18 0.2 0.2 0.22 0.21 nan nan nan 0.33
0.07 0.11 0.18 0.27 0.38 0.18 0.04 0.16 0.33 0.11
0.2 0.4 0.2 0.2 0.29 0.11 0.13 0.16 0.11 0.04
nan 0.04 0.11 0.16 0.18 0.31 0.47 0.11 0.07 0.38
0.09 0.02 0.47 0.33 0.11 0.29 0.2 0.24 0.36 0.16
0.11 0.22 0.40 0.11 0.16 0.31 0.36 0.2 0.4 0.29
0.11 0.36 0.24 0.40 0.40 0.27 0.2 0.22 0.33 0.22
0.29 0.0 0.31 0.2 0.38 0.11 0.40 0.11 0.13 0.24
0.31 0.29 0.2 0.31 0.22 0.11 0.11 0.22 0.29 0.31
0.42 0.42
"""


def pairs(txt):
    a = np.array(txt.replace(",", " ").split(), float).reshape(-1, 2)
    return a[:, 0], a[:, 1]


def vals(txt):
    return np.array(txt.split(), float)


# ---------------- style ----------------
sns.set_style("ticks")
plt.rcParams["font.family"] = ["Liberation Sans", "DejaVu Sans"]
plt.rcParams["axes.unicode_minus"] = True

GREY, NAVY, ORANGE = "#BEBEBE", "#00008B", "#FF8C00"
PAL = {"out": GREY, "win": "black", "sig": "red"}
XLAB = "Chromosome 13 position (Mbp)"
FS_LAB, FS_TICK = 8.8, 7.0

W, H = 1225, 515
fig = plt.figure(figsize=(W / 100, H / 100), dpi=100)

ROWS = [(25, 73), (117, 163), (207, 255), (297, 347), (388, 437)]
COLS = [(58, 604), (668, 1217)]


def make_ax(col, row):
    x0, x1 = COLS[col]
    yt, yb = ROWS[row]
    ax = fig.add_axes([x0 / W, 1 - yb / H, (x1 - x0) / W, (yb - yt) / H])
    for s in ["top", "right"]:
        ax.spines[s].set_visible(False)
    for s in ["left", "bottom"]:
        ax.spines[s].set_linewidth(1.1)
        ax.spines[s].set_color("black")
    ax.tick_params(length=2.75, width=0.8, color="#333333", labelcolor="#4D4D4D",
                   labelsize=FS_TICK, pad=1.8)
    return ax


def scatter_panel(ax, txt, win, thr):
    pos, val = pairs(txt)
    inside = (pos >= win[0]) & (pos <= win[1])
    cls = np.where(inside & (val > thr), "sig", np.where(inside, "win", "out"))
    df = pd.DataFrame({"pos": pos, "val": val, "cls": cls})
    df["k"] = df["cls"].map({"out": 0, "win": 1, "sig": 2})
    df = df.sort_values("k", kind="stable")
    sns.scatterplot(data=df, x="pos", y="val", hue="cls", palette=PAL, s=20,
                    linewidth=0, legend=False, ax=ax, zorder=2)
    ax.axhline(thr, color="black", lw=1.5, ls=(0, (5, 3)), zorder=3)


def line_panel(ax, win_txt, bc_txt, gl_txt, shade):
    pos = vals(win_txt)
    frames = []
    for name, txt in [("BC Odd", bc_txt), ("GL Odd", gl_txt)]:
        v = vals(txt)
        assert len(v) == len(pos), (name, len(v), len(pos))
        seg = np.cumsum(np.isnan(v))
        frames.append(pd.DataFrame({"pos": pos, "val": v, "pop": name, "seg": seg}))
    df = pd.concat(frames).dropna()
    df["unit"] = df["pop"] + df["seg"].astype(str)
    ax.axvspan(shade[0], shade[1], color="#E3E3E3", lw=0, zorder=0)
    sns.lineplot(data=df, x="pos", y="val", hue="pop", units="unit", estimator=None,
                 palette={"BC Odd": NAVY, "GL Odd": ORANGE}, lw=1.7, legend=False,
                 ax=ax, sort=False, zorder=2)
    ax.axhline(0, color="black", lw=1.5, ls=(0, (5, 3)), zorder=3)


PANELS = [
    dict(win=(39.2, 39.311), shade=(39.2, 39.3), xlim=(38.652, 39.845),
         xt=[38.7, 39.0, 39.3, 39.6],
         z=ZFST_15, p=LOGP_15, q=LOGQ_15, w=WIN_15,
         tbc=TAJ_BC_15, tgl=TAJ_GL_15, hbc=HET_BC_15, hgl=HET_GL_15,
         ylims=[(-0.12, 5.2), (-0.5, 29.3), (-0.2, 12.5), (-2.3, 4.8), (-0.02, 0.52)],
         yticks=[[0, 1, 2, 3, 4, 5], [0, 10, 20], [0, 2.5, 5, 7.5, 10], [-2, 0, 2, 4],
                 [0, 0.1, 0.2, 0.3, 0.4, 0.5]],
         yfmt=["{:g}", "{:g}", "{:.1f}", "{:g}", "{:.1f}"],
         ylab_x=[22, 17, 17, 18, 18],
         title="Outlier window 15 (length =  100000 bp)", leg_x=336),
    dict(win=(56.005, 56.102), shade=(56.0, 56.1), xlim=(55.459, 56.647),
         xt=[55.5, 55.8, 56.1, 56.4],
         z=ZFST_16, p=LOGP_16, q=LOGQ_16, w=WIN_16,
         tbc=TAJ_BC_16, tgl=TAJ_GL_16, hbc=HET_BC_16, hgl=HET_GL_16,
         ylims=[(-0.15, 5.45), (-0.5, 28), (-0.2, 11.6), (-1.9, 3.1), (-0.015, 0.622)],
         yticks=[[0, 2, 4], [0, 10, 20], [0, 3, 6, 9], [-1, 0, 1, 2, 3], [0, 0.2, 0.4, 0.6]],
         yfmt=["{:g}", "{:g}", "{:g}", "{:g}", "{:.1f}"],
         ylab_x=[632, 628, 628, 631, 634],
         title="Outlier window 16 (length =  100000 bp)", leg_x=945),
]
YLABS = ["ZFst", "\u2212log10(P)", "\u2212log10(Q)", "Tajima's D\n(10 Kbp)",
         "Heterozygosity\n(10 Kbp)"]

for c, P in enumerate(PANELS):
    axes = [make_ax(c, r) for r in range(5)]
    scatter_panel(axes[0], P["z"], P["win"], 4)
    scatter_panel(axes[1], P["p"], P["win"], 8)
    scatter_panel(axes[2], P["q"], P["win"], 3)
    line_panel(axes[3], P["w"], P["tbc"], P["tgl"], P["shade"])
    line_panel(axes[4], P["w"], P["hbc"], P["hgl"], P["shade"])
    x0, x1 = COLS[c]
    for r, ax in enumerate(axes):
        ax.set_xlim(*P["xlim"])
        ax.set_xticks(P["xt"])
        ax.set_xticklabels([f"{t:.1f}" for t in P["xt"]])
        ax.set_ylim(*P["ylims"][r])
        ax.set_yticks(P["yticks"][r])
        ax.set_yticklabels([P["yfmt"][r].format(t).replace("-", "\u2212")
                            for t in P["yticks"][r]])
        ax.set_ylabel(YLABS[r], fontsize=FS_LAB, linespacing=1.15, va="center")
        ax.yaxis.set_label_coords((P["ylab_x"][r] - x0) / (x1 - x0), 0.5)
        ax.set_xlabel(XLAB, fontsize=FS_LAB, labelpad=2.5)
    fig.text(x0 / W, 1 - 12 / H, P["title"], fontsize=9, ha="left", va="center")
    handles = [Line2D([], [], color=NAVY, lw=1.7, label="BC Odd"),
               Line2D([], [], color=ORANGE, lw=1.7, label="GL Odd")]
    fig.legend(handles=handles, loc="center", bbox_to_anchor=(P["leg_x"] / W, 1 - 503 / H),
               ncol=2, frameon=False, fontsize=7, handlelength=2.9, columnspacing=1.0,
               handletextpad=1.0)

fig.savefig("out.png", dpi=100)
